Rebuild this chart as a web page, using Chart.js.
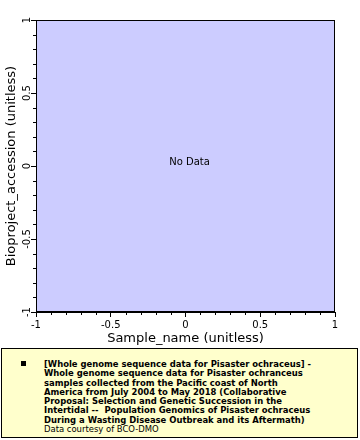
<!DOCTYPE html>
<html>
<head>
<meta charset="utf-8">
<script src="https://cdn.jsdelivr.net/npm/chart.js@4.4.0/dist/chart.umd.min.js"></script>
<style>
  body { margin: 0; background: #fff; font-family: 'DejaVu Sans', sans-serif; }
  #wrap { position: absolute; left: 0; top: 0; width: 360px; height: 346px; }
  #legend {
    position: absolute; left: 1px; top: 348px; width: 357px; height: 90px;
    box-sizing: border-box; border: 1px solid #000; background: #ffffcc;
  }
  #legend .mark { position: absolute; left: 19px; top: 12px; width: 5px; height: 5px; background: #000; }
  #legend .txt {
    position: absolute; left: 42px; top: 10px; font-size: 9.4px; line-height: 9.3px;
    font-family: 'DejaVu Sans Condensed', 'DejaVu Sans', sans-serif; color: #000; white-space: pre;
  }
  #legend .txt b { font-weight: bold; }
</style>
</head>
<body>
<div id="wrap"><canvas id="chart" width="360" height="346"></canvas></div>
<div id="legend">
  <div class="mark"></div>
  <div class="txt"><b>[Whole genome sequence data for Pisaster ochraceus] -
Whole genome sequence data for Pisaster ochranceus
samples collected from the Pacific coast of North
America from July 2004 to May 2018 (Collaborative
Proposal: Selection and Genetic Succession in the
Intertidal --  Population Genomics of Pisaster ochraceus
During a Wasting Disease Outbreak and its Aftermath)</b>
Data courtesy of BCO-DMO</div>
</div>
<script>
// no data points in this dataset
const sampleName = [];
const bioprojectAccession = [];

const xTicks = [-1, -0.5, 0, 0.5, 1];
const yTicks = [-1, -0.5, 0, 0.5, 1];
const minorTicks = [-0.9, -0.8, -0.7, -0.6, -0.4, -0.3, -0.2, -0.1, 0.1, 0.2, 0.3, 0.4, 0.6, 0.7, 0.8, 0.9];

const xTitle = 'Sample_name (unitless)';
const yTitle = 'Bioproject_accession (unitless)';

const tickFont = { family: 'DejaVu Sans', size: 10 };
const titleFont = { family: 'DejaVu Sans', size: 13 };

// plot background, frame, minor ticks and the "No Data" note
const framePlugin = {
  id: 'frame',
  beforeDraw(chart) {
    const a = chart.chartArea;
    const c = chart.ctx;
    c.save();
    c.fillStyle = '#ccccff';
    c.fillRect(a.left, a.top, a.right - a.left, a.bottom - a.top);
    c.restore();
  },
  afterDraw(chart) {
    const a = chart.chartArea;
    const c = chart.ctx;
    c.save();
    c.strokeStyle = '#000';
    c.lineWidth = 1;
    c.strokeRect(a.left + 0.5, a.top + 0.5, a.right - a.left - 1, a.bottom - a.top - 1);
    c.beginPath();
    for (const v of minorTicks) {
      const px = Math.round(chart.scales.x.getPixelForValue(v)) + 0.5;
      c.moveTo(px, a.bottom);
      c.lineTo(px, a.bottom + 3);
      const py = Math.round(chart.scales.y.getPixelForValue(v)) + 0.5;
      c.moveTo(a.left, py);
      c.lineTo(a.left - 3, py);
    }
    c.stroke();
    if (!sampleName.length) {
      c.fillStyle = '#000';
      c.font = '10px "DejaVu Sans"';
      c.textAlign = 'center';
      c.textBaseline = 'middle';
      c.fillText('No Data', (a.left + a.right) / 2 + 4, (a.top + a.bottom) / 2 - 4);
    }
    c.restore();
  }
};

new Chart(document.getElementById('chart'), {
  type: 'scatter',
  data: {
    datasets: [{
      data: sampleName.map((x, i) => ({ x: x, y: bioprojectAccession[i] })),
      backgroundColor: '#000',
      pointRadius: 2
    }]
  },
  options: {
    responsive: false,
    devicePixelRatio: 1,
    animation: false,
    layout: { padding: { top: 20, right: 25, left: 0, bottom: 0 } },
    plugins: { legend: { display: false }, tooltip: { enabled: false } },
    scales: {
      x: {
        type: 'linear', position: 'bottom', min: -1, max: 1,
        afterBuildTicks: s => { s.ticks = xTicks.map(v => ({ value: v })); },
        afterFit: s => { s.height = 34; },
        ticks: { font: tickFont, color: '#000', padding: 2, maxRotation: 0, callback: v => String(v) },
        grid: { drawOnChartArea: false, tickLength: 5, color: '#000', tickColor: '#000' },
        border: { color: '#000' },
        title: { display: true, text: xTitle, font: titleFont, color: '#000', padding: { top: 0, bottom: 0 } }
      },
      y: {
        type: 'linear', position: 'left', min: -1, max: 1,
        afterBuildTicks: s => { s.ticks = yTicks.map(v => ({ value: v })); },
        afterFit: s => { s.width = 36; },
        ticks: { font: tickFont, color: '#000', padding: -6.5, minRotation: 90, maxRotation: 90, crossAlign: 'center', callback: v => String(v) },
        grid: { drawOnChartArea: false, tickLength: 5, color: '#000', tickColor: '#000' },
        border: { color: '#000' },
        title: { display: true, text: yTitle, font: titleFont, color: '#000', padding: { top: 4, bottom: 0 } }
      }
    }
  },
  plugins: [framePlugin]
});
</script>
</body>
</html>
